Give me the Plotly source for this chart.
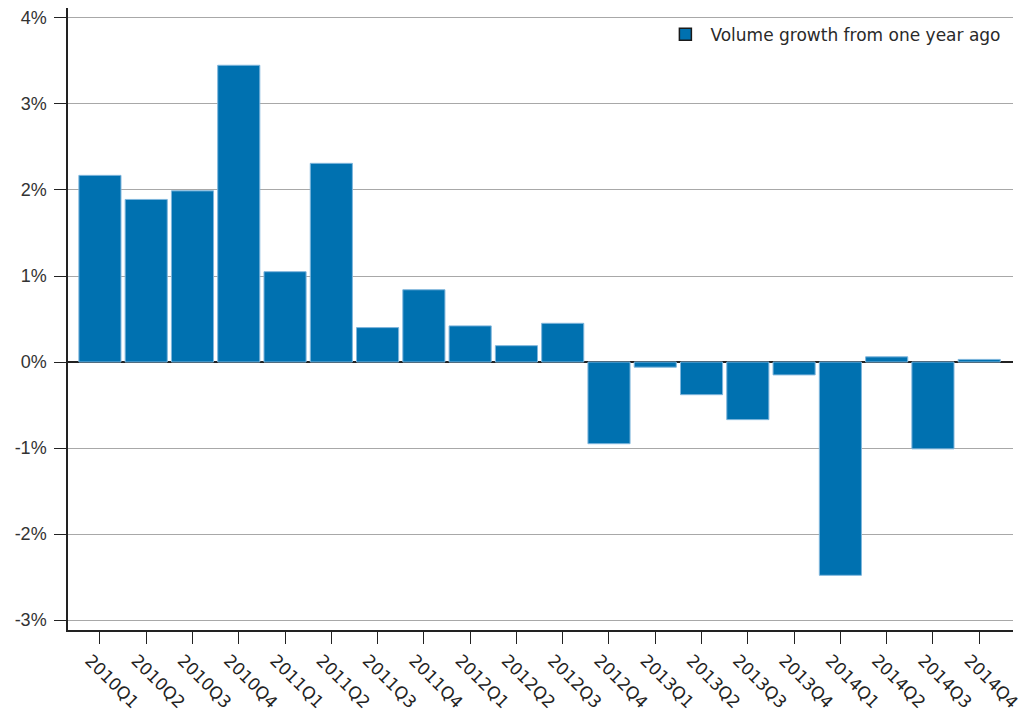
import plotly.graph_objects as go

quarters = ["2010Q1", "2010Q2", "2010Q3", "2010Q4", "2011Q1", "2011Q2", "2011Q3", "2011Q4",
            "2012Q1", "2012Q2", "2012Q3", "2012Q4", "2013Q1", "2013Q2", "2013Q3", "2013Q4",
            "2014Q1", "2014Q2", "2014Q3", "2014Q4"]
volume_growth = [2.17, 1.89, 1.99, 3.45, 1.05, 2.31, 0.40, 0.84,
                 0.42, 0.19, 0.45, -0.95, -0.06, -0.38, -0.67, -0.15,
                 -2.48, 0.06, -1.01, 0.03]
series_name = "Volume growth from one year ago"
y_ticks = [-3, -2, -1, 0, 1, 2, 3, 4]
y_tick_labels = ["-3%", "-2%", "-1%", "0%", "1%", "2%", "3%", "4%"]

fig = go.Figure()
fig.add_trace(go.Bar(
    x=list(range(len(quarters))),
    y=volume_growth,
    name=series_name,
    width=0.91,
    marker=dict(color="#0071b0", line=dict(color="#7fb6dc", width=1)),
    showlegend=False,
))
# legend entry (symbol with dark outline as in the reference)
fig.add_trace(go.Bar(
    x=[None], y=[None], name=series_name,
    marker=dict(color="#0071b0", line=dict(color="#1a1a1a", width=1.5)),
    showlegend=True,
))

fig.update_layout(
    width=1019, height=716,
    margin=dict(l=60, r=14, t=0, b=94),
    plot_bgcolor="white", paper_bgcolor="white",
    barmode="overlay",
    showlegend=True,
    legend=dict(x=0.993, xanchor="right", y=0.986, yanchor="top",
                bgcolor="rgba(0,0,0,0)", itemwidth=40,
                font=dict(family="DejaVu Sans", size=17, color="#2a2a2a")),
    xaxis=dict(
        tickmode="array", tickvals=list(range(len(quarters))), ticktext=quarters,
        range=[-0.69, 19.73], tickangle=45, automargin=False,
        ticklabeloverflow="allow", ticklabelshift=-10,
        showline=True, linecolor="#222222", linewidth=1.5,
        ticks="outside", ticklen=12, tickcolor="#222222",
        showgrid=False, zeroline=False,
        tickfont=dict(family="DejaVu Sans", size=17, color="#222222"),
    ),
    yaxis=dict(
        tickmode="array", tickvals=y_ticks, ticktext=y_tick_labels,
        range=[-3.116, 4.116], automargin=False, ticklabelstandoff=4,
        showline=True, linecolor="#222222", linewidth=1.5,
        ticks="outside", ticklen=12, tickcolor="#222222",
        showgrid=True, gridcolor="#a8a8a8", gridwidth=1,
        zeroline=True, zerolinecolor="#222222", zerolinewidth=1.5,
        tickfont=dict(family="Liberation Sans", size=18, color="#333333"),
    ),
)

fig.write_html("out.html")
